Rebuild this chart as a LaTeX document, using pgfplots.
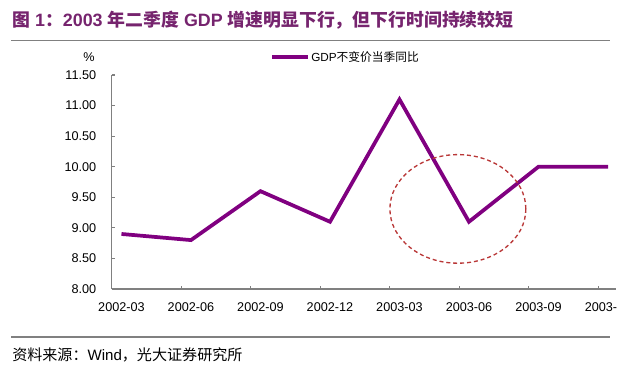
\documentclass[border=0pt]{standalone}
\usepackage{fontspec}
\setmainfont{Liberation Sans}
\newfontfamily\cjk{Noto Sans CJK SC}
\usepackage{pgfplots}
\pgfplotsset{compat=1.18}
\definecolor{gdp}{RGB}{128,0,128}
\definecolor{titlec}{RGB}{118,36,110}
\definecolor{ell}{RGB}{185,55,55}
\definecolor{axc}{RGB}{128,128,128}
\begin{document}
\begin{tikzpicture}
\path[use as bounding box] (0,0) rectangle (480pt,279pt);
% title
\node[anchor=west, inner sep=0pt, text=titlec, font=\fontsize{13.4}{15}\selectfont\bfseries] at (9pt,264pt)
  {{\cjk 图} 1{\cjk ：}2003 {\cjk 年二季度} GDP {\cjk 增速明显下行，但下行时间持续较短}};
\draw[axc, line width=1.1pt] (8.25pt,248.5pt) -- (457.5pt,248.5pt);
% footer
\draw[axc, line width=1.1pt] (8.25pt,26.25pt) -- (457.5pt,26.25pt);
\node[anchor=west, inner sep=0pt, font=\fontsize{11.3}{13}\selectfont] at (9pt,12.75pt)
  {{\cjk 资料来源：}Wind{\cjk ，光大证券研究所}};
% y unit
\node[font=\fontsize{9.5}{11}\selectfont] at (66.75pt,236.25pt) {\%};
\begin{axis}[
  at={(83.7pt,62.25pt)}, anchor=south west,
  scale only axis, width=378.3pt, height=160.5pt,
  xmin=-0.142, xmax=7.115, ymin=8, ymax=11.5,
  axis x line=bottom, axis y line=left,
  axis line style={-, draw=axc, line width=0.8pt},
  tick align=inside,
  xtick={0,1,2,3,4,5,6,7},
  xticklabels={2002-03,2002-06,2002-09,2002-12,2003-03,2003-06,2003-09,2003-\phantom{12}},
  major x tick style={draw=none},
  minor xtick={0.858,1.858,2.858,3.858,4.858,5.858,6.858},
  minor x tick style={draw=axc, line width=0.8pt},
  minor tick length=2.5pt,
  ytick={8,8.5,9,9.5,10,10.5,11,11.5},
  y tick style={draw=axc, line width=0.8pt},
  major tick length=2.5pt,
  /pgf/number format/assume math mode=true,
  y tick label style={/pgf/number format/fixed, /pgf/number format/fixed zerofill, /pgf/number format/precision=2, xshift=-8pt},
  tick label style={font=\fontsize{9.5}{11}\selectfont},
  x tick label style={yshift=-7pt},
  legend style={at={(0.314,1.084)}, anchor=west, draw=none, fill=none, inner sep=0pt,
    font=\fontsize{8.8}{10}\selectfont, nodes={inner xsep=1pt}},
  legend image code/.code={\draw[#1] (0pt,0pt) -- (27pt,0pt);},
  clip=false,
]
\addplot[gdp, line width=2.8pt, line join=miter, mark=none] coordinates {
  (0,8.9) (1,8.8) (2,9.6) (3,9.1) (4,11.1) (5,9.1) (6,10.0) (7,10.0)
};
\addlegendentry{GDP{\cjk 不变价当季同比}}
\draw[ell, line width=1pt, dash pattern=on 3pt off 2.2pt] (axis cs:4.84,9.31) ellipse [x radius=0.978, y radius=0.888];
\end{axis}
\end{tikzpicture}
\end{document}
